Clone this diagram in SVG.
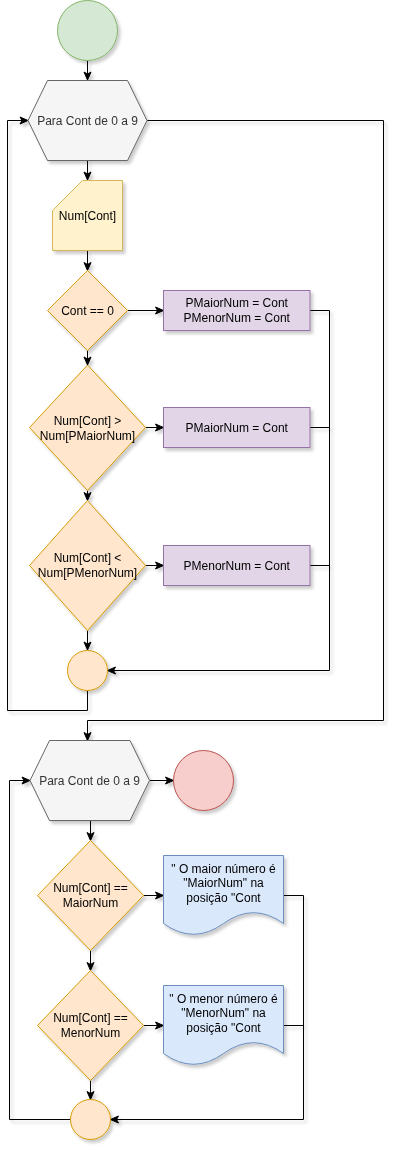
<svg xmlns="http://www.w3.org/2000/svg" width="403" height="1151" viewBox="0 0 403 1151">
<style>
  text { font-family: "Liberation Sans", Arial, sans-serif; font-size: 12px; fill: #000; text-anchor: middle; }
  .hex text, text.gray { fill: #333; }
  .edge { fill: none; stroke: #000; stroke-width: 1; }
  .arrow { marker-end: url(#arr); }
  .shape { filter: url(#sh); }
  .start { fill: #d5e8d4; stroke: #82b366; }
  .stop { fill: #f8cecc; stroke: #b85450; }
  .hexs { fill: #f5f5f5; stroke: #666; }
  .card { fill: #fff2cc; stroke: #d6b656; }
  .dec { fill: #ffe6cc; stroke: #d79b00; }
  .proc { fill: #e1d5e7; stroke: #9673a6; }
  .doc { fill: #dae8fc; stroke: #6c8ebf; }
</style>
<defs>
  <marker id="arr" markerUnits="userSpaceOnUse" markerWidth="10" markerHeight="10" viewBox="0 0 10 10" refX="9" refY="5" orient="auto">
    <path d="M1,1.5 L9,5 L1,8.5 L3,5 Z" fill="#000" stroke="#000" stroke-width="1"/>
  </marker>
  <filter id="sh" x="-20%" y="-20%" width="150%" height="150%">
    <feDropShadow dx="2.5" dy="3" stdDeviation="1.5" flood-color="#000" flood-opacity="0.2"/>
  </filter>
</defs>

<g id="connectors" filter="url(#sh)">
  <path class="edge arrow" d="M87.5 60.5 L87.5 80"/>
  <path class="edge arrow" d="M87.5 160 L87.5 180"/>
  <path class="edge arrow" d="M87.5 250 L87.5 270.5"/>
  <path class="edge arrow" d="M127.5 310.5 L163.5 310.5"/>
  <path class="edge arrow" d="M87.5 350.5 L87.5 365"/>
  <path class="edge arrow" d="M145.5 427.5 L163.5 427.5"/>
  <path class="edge arrow" d="M87.5 490.5 L87.5 500.5"/>
  <path class="edge arrow" d="M145.5 565.5 L163.5 565.5"/>
  <path class="edge arrow" d="M87.5 630.5 L87.5 650"/>
  <path class="edge arrow" d="M310 310.5 L329.5 310.5 L329.5 670.5 L107.5 670.5"/>
  <path class="edge" d="M310 427.5 L329.5 427.5"/>
  <path class="edge" d="M310 565.5 L329.5 565.5"/>
  <path class="edge arrow" d="M87.5 690.5 L87.5 710.5 L7.5 710.5 L7.5 120.5 L28 120.5"/>
  <path class="edge arrow" d="M147 120.5 L383.5 120.5 L383.5 720.5 L87.5 720.5 L87.5 740.5"/>
  <path class="edge arrow" d="M149.5 780.5 L173.5 780.5"/>
  <path class="edge arrow" d="M90.5 820.5 L90.5 840.5"/>
  <path class="edge arrow" d="M143.5 895.5 L163.5 895.5"/>
  <path class="edge arrow" d="M90.5 950.5 L90.5 970.5"/>
  <path class="edge arrow" d="M143.5 1025.5 L163.5 1025.5"/>
  <path class="edge arrow" d="M283.5 895.5 L303.5 895.5 L303.5 1119.5 L110.5 1119.5"/>
  <path class="edge" d="M283.5 1025.5 L303.5 1025.5"/>
  <path class="edge arrow" d="M90.5 1080.5 L90.5 1099.5"/>
  <path class="edge arrow" d="M70.5 1119.5 L9.5 1119.5 L9.5 780.5 L30 780.5"/>
</g>

<g id="start" class="shape"><circle class="start" cx="87.5" cy="30.5" r="30"/></g>

<g id="for1" class="shape hex">
  <polygon class="hexs" points="28,120.5 47.5,80.5 127.5,80.5 147,120.5 127.5,160.5 47.5,160.5"/>
  <text x="87.5" y="124.5">Para Cont de 0 a 9</text>
</g>

<g id="input" class="shape">
  <path class="card" d="M82.5 180.5 H122.5 V250.5 H52.5 V210.5 Z"/>
  <text x="87.5" y="219.5">Num[Cont]</text>
</g>

<g id="cond0" class="shape">
  <polygon class="dec" points="87.5,270.5 127.5,310.5 87.5,350.5 47.5,310.5"/>
  <text x="87.5" y="314.5">Cont == 0</text>
</g>

<g id="set0" class="shape">
  <rect class="proc" x="163.5" y="290.5" width="146.5" height="40"/>
  <text x="236.75" y="306.5">PMaiorNum = Cont</text>
  <text x="236.75" y="321.5">PMenorNum = Cont</text>
</g>

<g id="condMaior" class="shape">
  <polygon class="dec" points="87.5,365 145.5,427.5 87.5,490.5 29.5,427.5"/>
  <text x="87.5" y="424.5">Num[Cont] &gt;</text>
  <text x="87.5" y="439.5">Num[PMaiorNum]</text>
</g>

<g id="setMaior" class="shape">
  <rect class="proc" x="163.5" y="407.5" width="146.5" height="40"/>
  <text x="236.75" y="431.5">PMaiorNum = Cont</text>
</g>

<g id="condMenor" class="shape">
  <polygon class="dec" points="87.5,500.5 145.5,565.5 87.5,630.5 29.5,565.5"/>
  <text x="87.5" y="561.5">Num[Cont] &lt;</text>
  <text x="87.5" y="576.5">Num[PMenorNum]</text>
</g>

<g id="setMenor" class="shape">
  <rect class="proc" x="163.5" y="545.5" width="146.5" height="40"/>
  <text x="236.75" y="569.5">PMenorNum = Cont</text>
</g>

<g id="join1" class="shape"><circle class="dec" cx="87.5" cy="670.5" r="20"/></g>

<g id="for2" class="shape hex">
  <polygon class="hexs" points="30,780.5 49.5,740.5 130,740.5 149.5,780.5 130,820.5 49.5,820.5"/>
  <text x="89.5" y="784.5">Para Cont de 0 a 9</text>
</g>

<g id="end" class="shape"><circle class="stop" cx="203.5" cy="780.5" r="30"/></g>

<g id="condIsMaior" class="shape">
  <polygon class="dec" points="90.5,840.5 143.5,895.5 90.5,950.5 37.5,895.5"/>
  <text x="90.5" y="891.5">Num[Cont] ==</text>
  <text x="90.5" y="906.5">MaiorNum</text>
</g>

<g id="outMaior" class="shape">
  <path class="doc" d="M163.5 855.5 H283.5 V923.5 Q253.5 901.9 223.5 923.5 Q193.5 945.1 163.5 923.5 Z"/>
  <text x="223.5" y="872.5">" O maior número é</text>
  <text x="223.5" y="887">"MaiorNum" na</text>
  <text x="223.5" y="901.5">posição "Cont</text>
</g>

<g id="condIsMenor" class="shape">
  <polygon class="dec" points="90.5,970.5 143.5,1025.5 90.5,1080.5 37.5,1025.5"/>
  <text x="90.5" y="1021.5">Num[Cont] ==</text>
  <text x="90.5" y="1036.5">MenorNum</text>
</g>

<g id="outMenor" class="shape">
  <path class="doc" d="M163.5 985.5 H283.5 V1053.5 Q253.5 1031.9 223.5 1053.5 Q193.5 1075.1 163.5 1053.5 Z"/>
  <text x="223.5" y="1002.5">" O menor número é</text>
  <text x="223.5" y="1017">"MenorNum" na</text>
  <text x="223.5" y="1031.5">posição "Cont</text>
</g>

<g id="join2" class="shape"><circle class="dec" cx="90.5" cy="1119.5" r="20"/></g>
</svg>
